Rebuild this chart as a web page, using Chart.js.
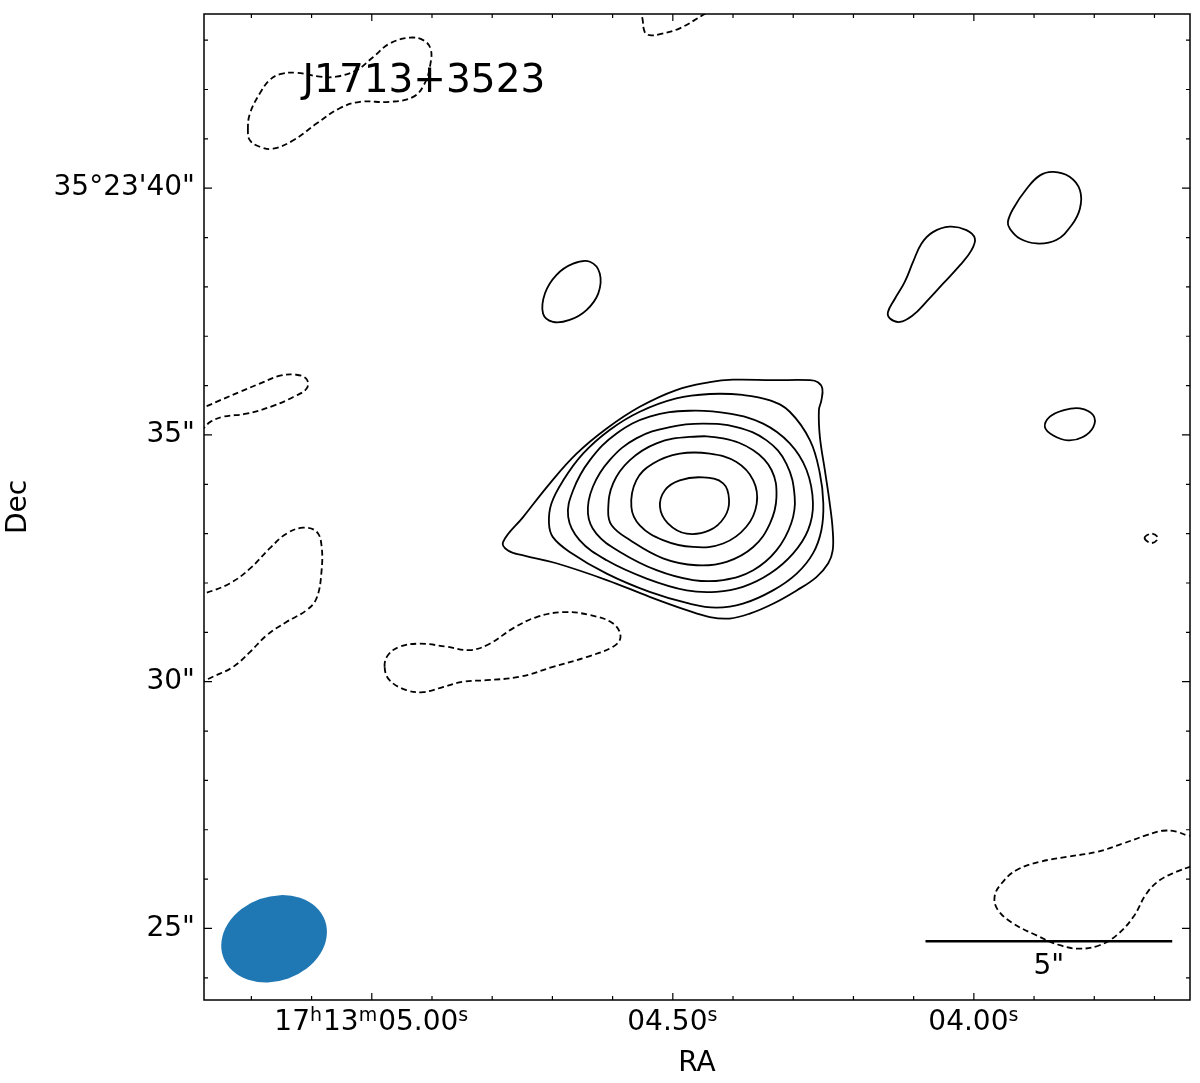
<!DOCTYPE html>
<html>
<head>
<meta charset="utf-8">
<script src="https://cdn.jsdelivr.net/npm/chart.js@4.4.0/dist/chart.umd.min.js"></script>
<style>
  body { margin: 0; background: #fff; }
  #wrap { width: 1200px; height: 1083px; position: relative; }
</style>
</head>
<body>
<div id="wrap"><canvas id="grafico"></canvas></div>
<script>
// unidades: x = arcsec a oeste de 17h13m05.00s, y = segundos de arco depois de 35°23'
const fonte = "'DejaVu Sans', 'Noto Sans', sans-serif";

const limitesX = [-3.40, 16.58];
const limitesY = [23.55, 43.53];

const raRef = 5.00;
const arcsecPorSegundo = 12.2;
const raMaiores = [5.00, 4.50, 4.00];
// pedacos alternados: normal, sobrescrito, normal, ...
const raRotulos = [['17', 'h', '13', 'm', '05.00', 's'], ['04.50', 's'], ['04.00', 's']];
const decMaiores = [25, 30, 35, 40];
const decRotulos = ['25"', '30"', '35"', '35°23\'40"'];

const titulo = 'J1713+3523';

// contornos positivos (fonte principal, de fora para dentro)
const nivel1 = [[2.66,32.83],[3.07,33.34],[3.61,34.02],[4.15,34.62],[4.76,35.13],[5.43,35.57],[6.17,35.91],[6.85,36.07],[7.32,36.12],[8.13,36.11],[8.88,36.11],[9.04,36.07],[9.13,35.94],[9.11,35.70],[9.06,35.50],[9.08,34.96],[9.18,34.29],[9.28,33.61],[9.34,33.07],[9.34,32.66],[9.25,32.40],[9.01,32.12],[8.61,31.85],[8.13,31.58],[7.66,31.38],[7.25,31.28],[6.85,31.31],[6.38,31.45],[5.63,31.72],[4.76,32.06],[3.74,32.40],[3.07,32.56],[2.76,32.66]];
const nivel2 = [[3.59,33.21],[3.64,33.61],[3.88,34.08],[4.28,34.62],[4.82,35.10],[5.43,35.47],[6.17,35.74],[6.85,35.83],[7.52,35.81],[8.07,35.70],[8.47,35.47],[8.88,34.89],[9.08,34.22],[9.15,33.61],[9.11,33.07],[8.94,32.60],[8.61,32.19],[8.13,31.85],[7.52,31.58],[6.98,31.50],[6.44,31.58],[5.63,31.82],[4.76,32.19],[4.01,32.63],[3.67,32.93]];
const nivel3 = [[3.98,33.34],[4.08,33.88],[4.42,34.49],[4.96,35.03],[5.63,35.37],[6.44,35.49],[7.25,35.43],[7.93,35.23],[8.47,34.83],[8.81,34.29],[8.94,33.61],[8.84,33.07],[8.54,32.60],[8.07,32.19],[7.52,31.92],[6.98,31.82],[6.38,31.85],[5.57,32.09],[4.76,32.46],[4.21,32.87]];
const nivel4 = [[4.38,33.41],[4.48,33.95],[4.82,34.49],[5.36,34.93],[6.04,35.16],[6.71,35.23],[7.39,35.16],[8.00,34.89],[8.40,34.42],[8.57,33.74],[8.50,33.21],[8.20,32.66],[7.73,32.26],[7.12,32.06],[6.51,32.06],[5.77,32.26],[5.03,32.63],[4.55,33.00]];
const nivel5 = [[4.79,33.48],[4.89,34.02],[5.23,34.49],[5.77,34.83],[6.44,34.96],[7.12,34.93],[7.73,34.69],[8.10,34.29],[8.20,33.74],[8.07,33.21],[7.73,32.73],[7.19,32.43],[6.58,32.36],[5.90,32.50],[5.23,32.87],[4.86,33.17]];
const nivel6 = [[5.26,33.54],[5.36,34.08],[5.70,34.42],[6.24,34.62],[6.85,34.62],[7.39,34.45],[7.73,34.08],[7.80,33.61],[7.59,33.14],[7.12,32.80],[6.51,32.73],[5.90,32.87],[5.43,33.17]];
const nivel7 = [[5.84,33.54],[5.94,33.88],[6.24,34.08],[6.71,34.14],[7.12,34.02],[7.24,33.68],[7.15,33.34],[6.85,33.07],[6.38,33.00],[6.00,33.21]];

// manchas positivas isoladas
const manchaA = [[3.47,37.46],[3.51,37.87],[3.74,38.24],[4.08,38.47],[4.42,38.51],[4.62,38.27],[4.59,37.87],[4.35,37.53],[4.01,37.33],[3.67,37.29]];
const manchaB = [[10.50,37.36],[10.46,37.49],[10.60,37.76],[10.80,38.10],[10.97,38.51],[11.14,38.88],[11.37,39.11],[11.71,39.22],[12.05,39.15],[12.22,38.98],[12.15,38.74],[11.92,38.44],[11.58,38.07],[11.24,37.70],[10.97,37.43],[10.70,37.29]];
const manchaC = [[12.93,39.18],[12.89,39.32],[13.00,39.59],[13.27,39.99],[13.54,40.26],[13.81,40.33],[14.14,40.23],[14.35,39.96],[14.35,39.59],[14.18,39.25],[13.87,38.95],[13.47,38.88],[13.13,38.98]];
const manchaD = [[13.64,35.16],[13.74,35.37],[14.01,35.50],[14.35,35.54],[14.62,35.40],[14.62,35.16],[14.41,34.96],[14.11,34.89],[13.81,34.99]];

// contornos negativos (tracejados)
const negA = [[-2.51,41.18],[-2.47,41.51],[-2.27,41.92],[-2.07,42.19],[-1.86,42.31],[-1.53,42.34],[-1.05,42.26],[-0.72,42.26],[-0.31,42.39],[0.03,42.66],[0.36,42.93],[0.77,43.05],[1.04,43.00],[1.19,42.83],[1.19,42.53],[1.07,42.12],[0.84,41.85],[0.36,41.75],[-0.24,41.75],[-0.65,41.62],[-1.12,41.31],[-1.59,40.97],[-2.00,40.80],[-2.27,40.84],[-2.47,40.97]];
const negE = [[0.26,30.30],[0.33,30.54],[0.57,30.71],[0.97,30.77],[1.51,30.71],[1.99,30.64],[2.39,30.77],[2.86,31.08],[3.34,31.31],[3.88,31.41],[4.42,31.35],[4.89,31.18],[5.04,30.91],[4.89,30.71],[4.35,30.50],[3.67,30.30],[3.00,30.10],[2.32,30.03],[1.85,30.00],[1.44,29.89],[1.04,29.79],[0.70,29.83],[0.36,30.03]];
const negG = [[15.66,32.91],[15.80,33.00],[15.93,32.91],[15.80,32.81]];
// abertos (cortados pela borda)
const negB = [[5.45,43.65],[5.49,43.40],[5.53,43.17],[5.63,43.10],[5.84,43.12],[6.24,43.24],[6.71,43.51],[6.95,43.65]];
const negC = [[-3.53,35.52],[-3.38,35.57],[-3.08,35.70],[-2.68,35.87],[-2.27,36.04],[-1.86,36.20],[-1.53,36.22],[-1.32,36.13],[-1.32,35.94],[-1.59,35.77],[-2.00,35.59],[-2.54,35.43],[-3.01,35.37],[-3.28,35.26],[-3.38,35.16],[-3.49,35.08]];
const negD = [[-3.53,31.75],[-3.38,31.79],[-2.88,31.99],[-2.47,32.29],[-2.07,32.70],[-1.73,33.00],[-1.39,33.12],[-1.12,33.04],[-1.02,32.77],[-1.02,32.22],[-1.12,31.69],[-1.32,31.45],[-1.73,31.21],[-2.13,30.94],[-2.47,30.60],[-2.81,30.30],[-3.22,30.10],[-3.38,30.03],[-3.53,29.97]];
const negF = [[16.68,26.87],[16.51,26.89],[16.31,26.96],[16.03,26.98],[15.70,26.89],[15.22,26.72],[14.69,26.55],[14.08,26.45],[13.54,26.35],[13.06,26.18],[12.76,25.91],[12.62,25.64],[12.69,25.37],[13.00,25.10],[13.47,24.86],[13.94,24.66],[14.35,24.59],[14.75,24.66],[15.09,24.86],[15.43,25.23],[15.70,25.71],[15.97,25.98],[16.31,26.15],[16.58,26.25],[16.74,26.30]];

// feixe (arcsec) e barra de escala
const feixeCentro = [-1.98, 24.79];
const feixeEixos = [2.19, 1.71];
const feixeAngulo = 19.7;
const barraInicio = [11.22, 24.74];
const barraComprimento = 5;
const barraRotulo = '5"';

function raParaX(s) { return (raRef - s) * arcsecPorSegundo; }

function pontos(lista) { return lista.map(p => ({ x: p[0], y: p[1] })); }

function contornoFechado(lista, tracejado) {
  const n = lista.length;
  return {
    data: pontos([lista[n - 1], ...lista, lista[0], lista[1]]),
    showLine: true, borderColor: '#000', borderWidth: 1.8,
    borderDash: tracejado ? [6, 3.5] : [],
    pointRadius: 0, tension: 0.4, clip: 0,
    segment: {
      borderColor: ctx => (ctx.p0DataIndex === 0 || ctx.p0DataIndex === n + 1) ? 'rgba(0,0,0,0)' : undefined
    }
  };
}

function contornoAberto(lista) {
  return {
    data: pontos(lista), showLine: true, borderColor: '#000', borderWidth: 1.8,
    borderDash: [6, 3.5], pointRadius: 0, tension: 0.4, clip: 0
  };
}

const conjuntos = [
  ...[nivel1, nivel2, nivel3, nivel4, nivel5, nivel6, nivel7].map(c => contornoFechado(c, false)),
  ...[manchaA, manchaB, manchaC, manchaD].map(c => contornoFechado(c, false)),
  ...[negA, negE, negG].map(c => contornoFechado(c, true)),
  ...[negB, negC, negD, negF].map(contornoAberto),
  {
    data: pontos([barraInicio, [barraInicio[0] + barraComprimento, barraInicio[1]]]),
    showLine: true, borderColor: '#000', borderWidth: 2.6, pointRadius: 0, tension: 0
  }
];

// rotulo de RA com h, m, s sobrescritos
function rotuloRA(ctx, partes, cx, base) {
  const fontes = ['28px ' + fonte, '19px ' + fonte];
  let largura = 0;
  partes.forEach((p, i) => { ctx.font = fontes[i % 2]; largura += ctx.measureText(p).width + (i % 2 ? 1 : 0); });
  let px = cx - largura / 2;
  ctx.textAlign = 'left';
  ctx.textBaseline = 'alphabetic';
  partes.forEach((p, i) => {
    ctx.font = fontes[i % 2];
    ctx.fillText(p, px, i % 2 ? base - 9 : base);
    px += ctx.measureText(p).width + (i % 2 ? 1 : 0);
  });
}

const moldura = {
  id: 'moldura',
  afterDatasetsDraw(chart) {
    const { ctx, chartArea: a, scales: { x, y } } = chart;
    const escala = x.getPixelForValue(1) - x.getPixelForValue(0);
    ctx.save();

    // feixe
    ctx.fillStyle = '#1f77b4';
    ctx.beginPath();
    ctx.ellipse(x.getPixelForValue(feixeCentro[0]), y.getPixelForValue(feixeCentro[1]),
      feixeEixos[0] / 2 * escala, feixeEixos[1] / 2 * escala, -feixeAngulo * Math.PI / 180, 0, 2 * Math.PI);
    ctx.fill();

    // ticks para dentro nos quatro lados
    ctx.strokeStyle = '#000';
    ctx.lineWidth = 1.2;
    ctx.beginPath();
    for (let k = 52; k >= 37; k--) {
      const px = x.getPixelForValue(raParaX(k / 10));
      if (px < a.left || px > a.right) continue;
      const t = k % 5 === 0 ? 7 : 4;
      ctx.moveTo(px, a.bottom); ctx.lineTo(px, a.bottom - t);
      ctx.moveTo(px, a.top); ctx.lineTo(px, a.top + t);
    }
    for (let d = 24; d <= 43; d++) {
      const py = y.getPixelForValue(d);
      const t = d % 5 === 0 ? 8 : 4;
      ctx.moveTo(a.left, py); ctx.lineTo(a.left + t, py);
      ctx.moveTo(a.right, py); ctx.lineTo(a.right - t, py);
    }
    ctx.stroke();

    ctx.lineWidth = 1.5;
    ctx.strokeRect(a.left, a.top, a.right - a.left, a.bottom - a.top);

    // textos
    ctx.fillStyle = '#000';
    raMaiores.forEach((s, i) => rotuloRA(ctx, raRotulos[i], x.getPixelForValue(raParaX(s)), a.bottom + 30));

    ctx.font = '39px ' + fonte;
    ctx.textAlign = 'left';
    ctx.textBaseline = 'middle';
    ctx.fillText(titulo, a.left + 0.1 * (a.right - a.left), a.top + 0.069 * (a.bottom - a.top));

    ctx.font = '28px ' + fonte;
    ctx.textAlign = 'center';
    ctx.fillText(barraRotulo, x.getPixelForValue(barraInicio[0] + barraComprimento / 2), y.getPixelForValue(24.23));
    ctx.restore();
  }
};

new Chart(document.getElementById('grafico'), {
  type: 'scatter',
  data: { datasets: conjuntos },
  options: {
    responsive: true,
    maintainAspectRatio: false,
    animation: false,
    events: [],
    layout: { padding: { top: 14, right: 10, left: 0, bottom: 0 } },
    elements: { line: { capBezierPoints: false } },
    plugins: { legend: { display: false }, tooltip: { enabled: false } },
    scales: {
      x: {
        type: 'linear', min: limitesX[0], max: limitesX[1],
        grid: { display: false, drawTicks: false }, border: { display: false },
        afterFit: s => { s.height = 83; s.paddingLeft = 0; s.paddingRight = 0; },
        afterBuildTicks: s => { s.ticks = raMaiores.map(v => ({ value: raParaX(v) })); },
        ticks: { display: false },
        title: { display: true, text: 'RA', color: '#000', font: { family: fonte, size: 28 }, padding: { top: 0, bottom: 2 } }
      },
      y: {
        type: 'linear', min: limitesY[0], max: limitesY[1],
        grid: { display: false, drawTicks: false }, border: { display: false },
        afterFit: s => { s.width = 204; s.paddingTop = 0; s.paddingBottom = 0; },
        afterBuildTicks: s => { s.ticks = decMaiores.map(v => ({ value: v })); },
        ticks: {
          autoSkip: false, padding: 9, color: '#000',
          font: { family: fonte, size: 28 },
          callback: (v, i) => decRotulos[i]
        },
        title: { display: true, text: 'Dec', color: '#000', font: { family: fonte, size: 28 }, padding: { top: 2, bottom: 0 } }
      }
    }
  },
  plugins: [moldura]
});
</script>
</body>
</html>
